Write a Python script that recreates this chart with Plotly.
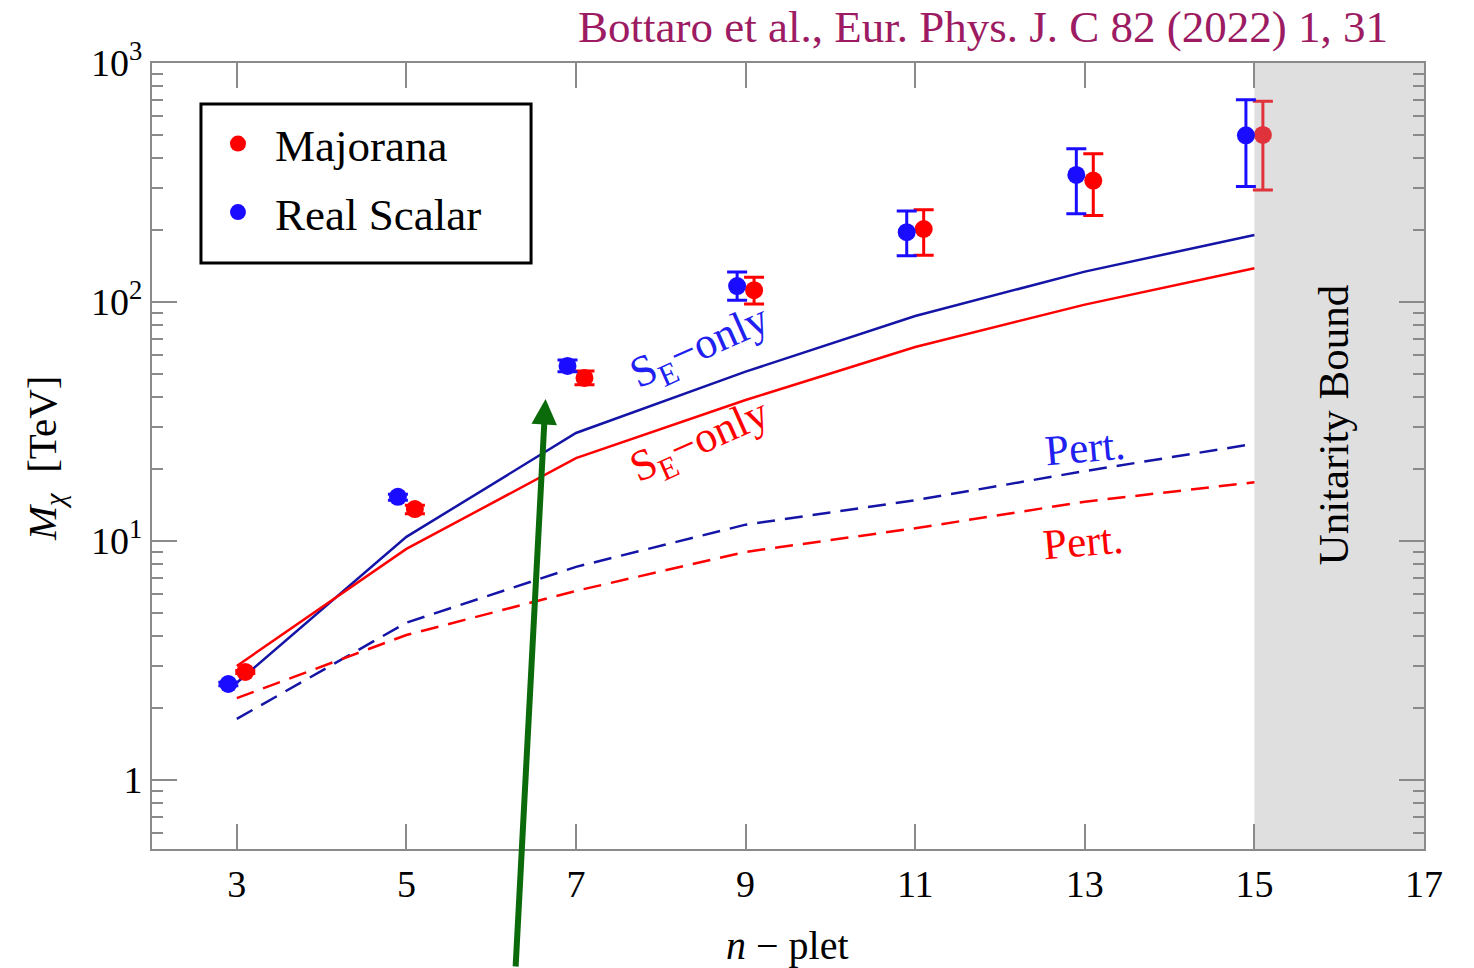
import math
import plotly.graph_objects as go

# ---- data ----------------------------------------------------------------
n_plet = [3, 5, 7, 9, 11, 13, 15]

# Thermal masses (TeV) with asymmetric uncertainties
maj_mass = [2.83, 13.6, 48.1, 112, 202, 322, 500]
maj_err_up = [0.04, 0.5, 3.3, 15, 41, 95, 192]
maj_err_dn = [0.04, 0.6, 3.1, 14, 45, 92, 206]

rs_mass = [2.52, 15.3, 54.0, 116.6, 196, 340, 498]
rs_err_up = [0.04, 0.4, 3.2, 17, 44, 98, 204]
rs_err_dn = [0.04, 0.5, 3.0, 15, 40, 106, 194]

# Sommerfeld-only and perturbative curves (TeV)
se_maj = [3.0, 9.26, 22.2, 38.9, 64.8, 97.5, 138.4]
se_rs = [2.55, 10.4, 28.3, 51.1, 87.4, 134, 190.7]
pert_maj = [2.20, 4.04, 6.18, 9.0, 11.3, 14.6, 17.6]
pert_rs = [1.80, 4.55, 7.79, 11.7, 14.8, 19.6, 25.5]

x_ticks = [3, 5, 7, 9, 11, 13, 15, 17]
y_ticks = [1, 10, 100, 1000]
y_ticktext = ["1", "10<sup>1</sup>", "10<sup>2</sup>", "10<sup>3</sup>"]

# ---- styling ---------------------------------------------------------------
FONT = "Liberation Serif"
RED = "#ff0000"
RED_LAST = "#e0323a"
BLUE_PT = "#1a0dff"
BLUE_LN = "#1414a6"
BLUE_TXT = "#2020f0"
AXIS = "#8a8a8a"
DODGE = 0.1

fig = go.Figure()

# curves
for y, col, dash in [(se_rs, BLUE_LN, "solid"), (se_maj, RED, "solid"),
                     (pert_rs, BLUE_LN, "18px,10px"), (pert_maj, RED, "18px,10px")]:
    fig.add_trace(go.Scatter(x=n_plet, y=y, mode="lines",
                             line=dict(color=col, width=2.5, dash=dash),
                             showlegend=False, hoverinfo="skip"))

def points(xs, ys, up, dn, col, name, group, legend):
    fig.add_trace(go.Scatter(
        x=xs, y=ys, mode="markers", name=name, showlegend=legend,
        legendgroup=group,
        marker=dict(color=col, size=18),
        error_y=dict(type="data", array=up, arrayminus=dn, symmetric=False,
                     color=col, thickness=3, width=10),
    ))

# Majorana (last point drawn in a slightly softer red)
points([n + DODGE for n in n_plet[:-1]], maj_mass[:-1], maj_err_up[:-1],
       maj_err_dn[:-1], RED, "Majorana", "maj", True)
points([n_plet[-1] + DODGE], maj_mass[-1:], maj_err_up[-1:], maj_err_dn[-1:],
       RED_LAST, "Majorana", "maj", False)
# Real scalar
points([n - DODGE for n in n_plet], rs_mass, rs_err_up, rs_err_dn,
       BLUE_PT, "Real Scalar", "rs", True)

# unitarity-excluded band
fig.add_shape(type="rect", xref="x", yref="y domain", x0=15, x1=17, y0=0, y1=1,
              fillcolor="#dfdfdf", line=dict(width=0), layer="below")

# framed box behind the legend entries
fig.add_shape(type="rect", xref="paper", yref="paper",
              x0=0.0385, x1=0.298, y0=0.7455, y1=0.9478,
              fillcolor="white", line=dict(color="black", width=3),
              layer="above")

def label(text, x, y, col, size=40, angle=0):
    fig.add_annotation(text=text, xref="paper", yref="paper", x=x, y=y,
                       xanchor="center", yanchor="middle",
                       showarrow=False, textangle=angle,
                       font=dict(family=FONT, size=size, color=col))

label("S<sub>E</sub>\u2212only", 0.4309, 0.6374, BLUE_TXT, size=44, angle=-24)
label("S<sub>E</sub>\u2212only", 0.4309, 0.5178, RED, size=44, angle=-24)
label("Pert.", 0.7335, 0.5102, BLUE_TXT, size=43, angle=-5)
label("Pert.", 0.7320, 0.3906, RED, size=43, angle=-5)
label("Unitarity Bound", 0.9285, 0.539, "black", size=43, angle=-90)

# axis titles
label("<i>n</i> \u2212 plet", 0.4998, -0.1225, "black", size=40)
label("<i>M</i><sub><i>\u03c7</i></sub>  [TeV]", -0.0841, 0.4974, "black",
      size=41, angle=-90)

# citation
fig.add_annotation(text="Bottaro et al., Eur. Phys. J. C 82 (2022) 1, 31",
                   xref="paper", yref="paper", x=0.9733, y=1.0458,
                   xanchor="right", yanchor="middle", showarrow=False,
                   font=dict(family=FONT, size=45, color="#9c1b62"))

# pointer arrow
fig.add_annotation(text="", xref="paper", yref="paper", x=0.3094, y=0.5725,
                   ax=-30, ay=569, showarrow=True, arrowhead=2,
                   arrowsize=0.85, arrowwidth=6, arrowcolor="#0b6b0b")

axis_common = dict(showgrid=False, zeroline=False, showline=True,
                   linecolor=AXIS, linewidth=2, mirror="allticks",
                   ticks="inside", tickcolor=AXIS, tickwidth=1.5, ticklen=25,
                   tickfont=dict(family=FONT, size=38, color="black"))

minor_vals = [m * 10 ** k for k in range(-1, 3) for m in range(2, 10)]

fig.update_xaxes(range=[2, 17], tickmode="array", tickvals=x_ticks, **axis_common)
fig.update_yaxes(type="log", range=[math.log10(0.514), 3], tickmode="array",
                 tickvals=y_ticks, ticktext=y_ticktext,
                 minor=dict(tickmode="array", tickvals=minor_vals, ticks="inside",
                            ticklen=11, tickcolor=AXIS, tickwidth=1.5,
                            showgrid=False),
                 **axis_common)

fig.update_layout(
    width=1474, height=968,
    margin=dict(l=152, r=50, t=63, b=119),
    paper_bgcolor="white", plot_bgcolor="white",
    font=dict(family=FONT, color="black"),
    legend=dict(x=0.0385, y=0.943, xanchor="left", yanchor="top",
                borderwidth=0, bgcolor="rgba(0,0,0,0)",
                font=dict(family=FONT, size=45, color="black"),
                traceorder="grouped", tracegroupgap=7,
                itemwidth=64, entrywidth=250, entrywidthmode="pixels"),
)

fig.write_html("out.html")
